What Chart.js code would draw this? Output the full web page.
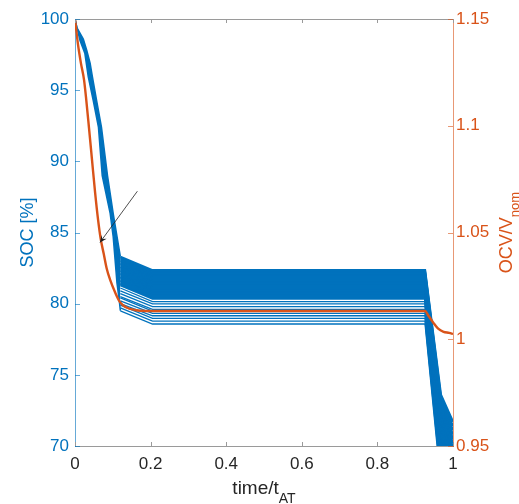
<!DOCTYPE html>
<html>
<head>
<meta charset="utf-8">
<script src="https://cdn.jsdelivr.net/npm/chart.js@4.4.0/dist/chart.umd.min.js"></script>
<style>
  html, body { margin: 0; padding: 0; background: #fff; }
</style>
</head>
<body>
<canvas id="chart" width="519" height="504"></canvas>
<script>
// tick labels
const timeTickLabels = ["0", "0.2", "0.4", "0.6", "0.8", "1"];
const socTickLabels = ["70", "75", "80", "85", "90", "95", "100"];
const ocvTickLabels = ["0.95", "1", "1.05", "1.1", "1.15"];

// OCV / V_nom (right axis)
const ocvTime = [0, 0.008, 0.016, 0.024, 0.029, 0.037, 0.045, 0.053, 0.061, 0.068, 0.076, 0.084, 0.093, 0.106, 0.119, 0.135, 0.159, 0.198, 0.926, 0.935, 0.947, 0.96, 0.975, 0.99, 1.0];
const ocvValue = [1.15, 1.138, 1.129, 1.1214, 1.1135, 1.099, 1.084, 1.069, 1.056, 1.047, 1.04, 1.033, 1.0278, 1.022, 1.0174, 1.015, 1.0137, 1.0132, 1.0132, 1.011, 1.008, 1.0051, 1.0035, 1.003, 1.0025];

// SOC bundle, first discharge: outer edges of the band
const descentTopTime = [0, 0.005, 0.022, 0.031, 0.04, 0.046, 0.057, 0.07, 0.086, 0.101, 0.12];
const descentTopSoc = [100, 99.4, 98.6, 97.8, 96.9, 95.95, 94.3, 92.4, 89.0, 86.35, 83.3];
const descentLowTime = [0, 0.013, 0.026, 0.035, 0.048, 0.062, 0.072, 0.093, 0.101, 0.111, 0.117, 0.12];
const descentLowSoc = [100, 98.5, 97.6, 95.95, 94.3, 92.4, 89.0, 86.35, 84.7, 81.45, 80.25, 79.5];

// SOC bundle, one value per curve (top to bottom) at these times
const bundleTime = [0.12, 0.205, 0.926, 0.968, 1.0];
const socKnee = [83.3, 83.2, 83.1, 83.0, 82.9, 82.8, 82.7, 82.6, 82.5, 82.4, 82.3, 82.2, 82.1, 82.0, 81.9, 81.8, 81.7, 81.6, 81.5, 81.4, 81.3, 81.1, 80.9, 80.7, 80.5, 80.4, 80.2, 80.0, 79.9, 79.7, 79.5];
const socPlateau = [82.35, 82.25, 82.15, 82.05, 81.95, 81.85, 81.75, 81.65, 81.55, 81.45, 81.35, 81.25, 81.15, 81.05, 80.95, 80.85, 80.75, 80.65, 80.55, 80.45, 80.35, 80.14, 79.98, 79.79, 79.6, 79.48, 79.32, 79.15, 78.97, 78.78, 78.57];
const socDrop = [73.6, 73.4, 73.2, 73.0, 72.8, 72.6, 72.4, 72.2, 72.0, 71.8, 71.6, 71.4, 71.2, 71.0, 70.8, 70.6, 70.4, 70.2, 70.0, 69.8, 69.6, 69.4, 69.2, 69.0, 68.8, 68.6, 68.4, 68.1, 67.8, 67.6, 67.3];
const socEnd = [71.7, 71.4, 71.1, 70.8, 70.5, 70.2, 69.9, 69.6, 69.3, 69.0, 68.7, 68.4, 68.1, 67.8, 67.5, 67.2, 66.9, 66.6, 66.3, 66.0, 65.7, 65.4, 65.1, 64.8, 64.5, 64.2, 63.9, 63.6, 63.4, 63.2, 63.0];

// arrow annotation (time, SOC)
const arrowFrom = [0.165, 87.9];
const arrowTo = [0.066, 84.3];

const blue = "#0072BD";
const orange = "#D95319";
const fontFamily = "'Liberation Sans', Arial, Helvetica, sans-serif";

const datasets = [];

// orange first so it is drawn on top
datasets.push({
  yAxisID: "yOcv",
  data: ocvTime.map((t, i) => ({ x: t, y: ocvValue[i] })),
  borderColor: orange,
  borderWidth: 2.4,
  pointRadius: 0,
  fill: false,
  cubicInterpolationMode: "monotone",
  clip: 0,
});

// the tightly packed upper curves get a wider stroke so they merge like the original
socPlateau.forEach((p, i) => {
  const vals = [socKnee[i], p, p, socDrop[i], socEnd[i]];
  datasets.push({
    yAxisID: "ySoc",
    data: bundleTime.map((t, j) => ({ x: t, y: vals[j] })),
    borderColor: blue,
    borderWidth: i < 21 ? 2.3 : 1.3,
    pointRadius: 0,
    fill: false,
    tension: 0,
    clip: 0,
  });
});

// descent band: right edge filled down to left edge
datasets.push({
  yAxisID: "ySoc",
  data: descentTopTime.map((t, i) => ({ x: t, y: descentTopSoc[i] })),
  borderColor: blue,
  backgroundColor: blue,
  borderWidth: 1.5,
  pointRadius: 0,
  fill: "+1",
  tension: 0,
  clip: 0,
});
datasets.push({
  yAxisID: "ySoc",
  data: descentLowTime.map((t, i) => ({ x: t, y: descentLowSoc[i] })),
  borderColor: blue,
  borderWidth: 1.5,
  pointRadius: 0,
  fill: false,
  tension: 0,
  clip: 0,
});

// inward ticks, top edge, axis titles with subscripts, arrow
const extras = {
  id: "extras",
  afterDraw(chart) {
    const { ctx, chartArea: a, scales } = chart;
    const xs = scales.x, yl = scales.ySoc, yr = scales.yOcv;
    ctx.save();
    ctx.lineWidth = 1;

    ctx.strokeStyle = "#9a9a9a";
    ctx.beginPath();
    ctx.moveTo(a.left, Math.round(a.top) + 0.5);
    ctx.lineTo(a.right, Math.round(a.top) + 0.5);
    ctx.stroke();

    xs.ticks.forEach((t) => {
      const px = Math.round(xs.getPixelForValue(t.value)) + 0.5;
      ctx.beginPath();
      ctx.moveTo(px, a.bottom);
      ctx.lineTo(px, a.bottom - 4);
      ctx.moveTo(px, a.top);
      ctx.lineTo(px, a.top + 4);
      ctx.stroke();
    });

    ctx.strokeStyle = "rgba(0,114,189,0.6)";
    yl.ticks.forEach((t) => {
      const py = Math.round(yl.getPixelForValue(t.value)) + 0.5;
      ctx.beginPath();
      ctx.moveTo(a.left, py);
      ctx.lineTo(a.left + 5, py);
      ctx.stroke();
    });

    ctx.strokeStyle = "rgba(217,83,25,0.6)";
    yr.ticks.forEach((t) => {
      const py = Math.round(yr.getPixelForValue(t.value)) + 0.5;
      ctx.beginPath();
      ctx.moveTo(a.right, py);
      ctx.lineTo(a.right - 5, py);
      ctx.stroke();
    });

    // arrow
    const x1 = xs.getPixelForValue(arrowFrom[0]), y1 = yl.getPixelForValue(arrowFrom[1]);
    const x2 = xs.getPixelForValue(arrowTo[0]), y2 = yl.getPixelForValue(arrowTo[1]);
    const ang = Math.atan2(y2 - y1, x2 - x1);
    ctx.strokeStyle = "#222";
    ctx.fillStyle = "#222";
    ctx.lineWidth = 0.8;
    ctx.beginPath();
    ctx.moveTo(x1, y1);
    ctx.lineTo(x2, y2);
    ctx.stroke();
    const hl = 7, hw = 3.2;
    ctx.beginPath();
    ctx.moveTo(x2, y2);
    ctx.lineTo(x2 - hl * Math.cos(ang) + hw * Math.sin(ang), y2 - hl * Math.sin(ang) - hw * Math.cos(ang));
    ctx.lineTo(x2 - 0.6 * hl * Math.cos(ang), y2 - 0.6 * hl * Math.sin(ang));
    ctx.lineTo(x2 - hl * Math.cos(ang) - hw * Math.sin(ang), y2 - hl * Math.sin(ang) + hw * Math.cos(ang));
    ctx.closePath();
    ctx.fill();

    // titles
    const midY = (a.top + a.bottom) / 2;
    ctx.textBaseline = "alphabetic";

    ctx.fillStyle = blue;
    ctx.font = "18px " + fontFamily;
    ctx.save();
    ctx.translate(33, midY);
    ctx.rotate(-Math.PI / 2);
    ctx.textAlign = "center";
    ctx.fillText("SOC [%]", 0, 0);
    ctx.restore();

    ctx.fillStyle = orange;
    ctx.save();
    ctx.translate(512, midY);
    ctx.rotate(-Math.PI / 2);
    ctx.font = "18px " + fontFamily;
    const mainW = ctx.measureText("OCV/V").width;
    ctx.font = "13px " + fontFamily;
    const subW = ctx.measureText("nom").width;
    const start = -(mainW + subW) / 2;
    ctx.textAlign = "left";
    ctx.font = "18px " + fontFamily;
    ctx.fillText("OCV/V", start, 0);
    ctx.font = "13px " + fontFamily;
    ctx.fillText("nom", start + mainW, 7);
    ctx.restore();

    ctx.fillStyle = "#262626";
    const midX = (a.left + a.right) / 2;
    ctx.font = "19px " + fontFamily;
    const tW = ctx.measureText("time/t").width;
    ctx.font = "14px " + fontFamily;
    const aW = ctx.measureText("AT").width;
    const sx = midX - (tW + aW) / 2;
    ctx.textAlign = "left";
    ctx.font = "19px " + fontFamily;
    ctx.fillText("time/t", sx, 494);
    ctx.font = "14px " + fontFamily;
    ctx.fillText("AT", sx + tW, 503);

    ctx.restore();
  },
};

const ctx = document.getElementById("chart").getContext("2d");
const chart = new Chart(ctx, {
  type: "line",
  data: { datasets: datasets },
  options: {
    responsive: false,
    animation: false,
    events: [],
    layout: { padding: { top: 19, left: 0, right: 0, bottom: 0 } },
    plugins: {
      legend: { display: false },
      tooltip: { enabled: false },
    },
    scales: {
      x: {
        type: "linear",
        position: "bottom",
        min: 0,
        max: 1,
        grid: { display: false, drawTicks: false },
        border: { display: true, color: "#9a9a9a", width: 1 },
        ticks: {
          stepSize: 0.2,
          padding: 8,
          color: "#262626",
          font: { family: fontFamily, size: 17 },
          maxRotation: 0,
          callback: (v, i) => timeTickLabels[i],
        },
        afterFit: (scale) => { scale.height = 58; },
      },
      ySoc: {
        type: "linear",
        position: "left",
        min: 70,
        max: 100,
        grid: { display: false, drawTicks: false },
        border: { display: true, color: "rgba(0,114,189,0.6)", width: 1 },
        ticks: {
          stepSize: 5,
          padding: 6,
          color: blue,
          font: { family: fontFamily, size: 17 },
          callback: (v, i) => socTickLabels[i],
        },
        afterFit: (scale) => { scale.width = 75; },
      },
      yOcv: {
        type: "linear",
        position: "right",
        min: 0.95,
        max: 1.15,
        grid: { display: false, drawTicks: false },
        border: { display: true, color: "rgba(217,83,25,0.6)", width: 1 },
        ticks: {
          stepSize: 0.05,
          padding: 3,
          color: orange,
          font: { family: fontFamily, size: 17 },
          callback: (v, i) => ocvTickLabels[i],
        },
        afterFit: (scale) => { scale.width = 66; },
      },
    },
  },
  plugins: [extras],
});
</script>
</body>
</html>
